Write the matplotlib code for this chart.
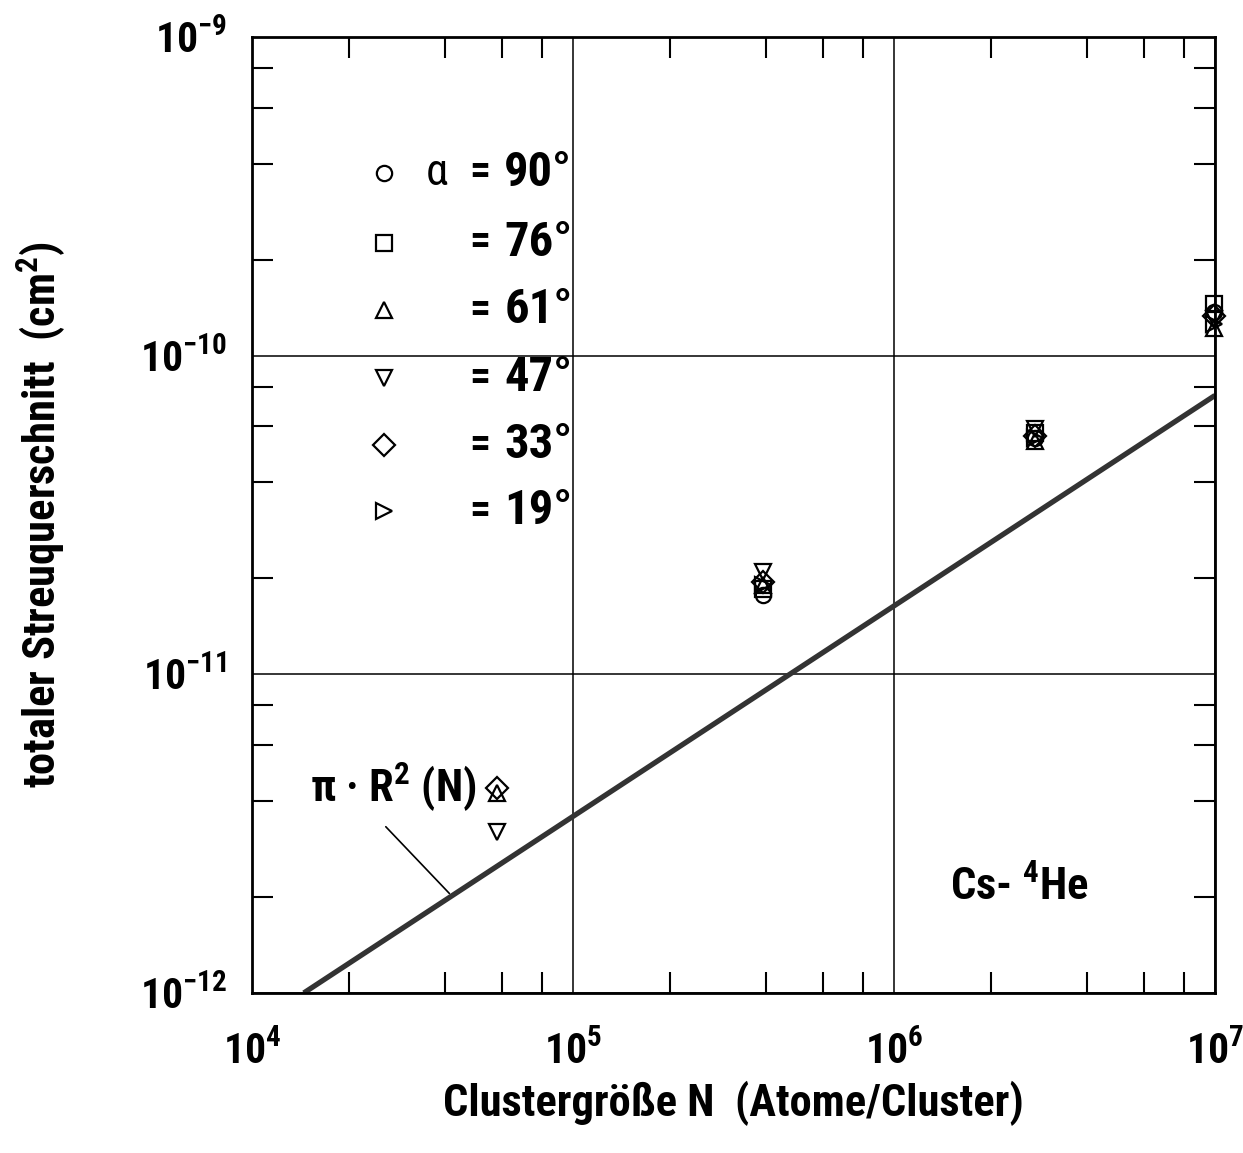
import numpy as np
import matplotlib
matplotlib.use('Agg')
import matplotlib.pyplot as plt
from matplotlib import font_manager as fm
from matplotlib.ticker import LogLocator, NullFormatter, FixedLocator, FixedFormatter

# pick a condensed bold sans, whatever is there
have = set(f.name for f in fm.fontManager.ttflist)
font = 'DejaVu Sans'
for cand in ['Roboto Condensed', 'Archivo Narrow', 'PT Sans Narrow', 'Fira Sans Condensed',
             'Barlow Condensed', 'Liberation Sans Narrow', 'Liberation Sans']:
    if cand in have:
        font = cand
        break

plt.rcParams['font.family'] = [font, 'DejaVu Sans']
plt.rcParams['font.weight'] = 'bold'
plt.rcParams['axes.labelweight'] = 'bold'
plt.rcParams['mathtext.fontset'] = 'custom'
plt.rcParams['mathtext.rm'] = font + ':bold'
plt.rcParams['mathtext.it'] = font + ':bold'
plt.rcParams['mathtext.bf'] = font + ':bold'
plt.rcParams['mathtext.default'] = 'rm'

# cluster sizes of the measurements
N = [5.8e4, 3.9e5, 2.75e6, 9.9e6]
angles = [90, 76, 61, 47, 33, 19]
markers = ['o', 's', '^', 'v', 'D', '>']
sigma = {
    90: [np.nan, 1.78e-11, 5.5e-11, 1.37e-10],
    76: [np.nan, 1.85e-11, 5.7e-11, 1.45e-10],
    61: [4.25e-12, 1.9e-11, 5.4e-11, 1.22e-10],
    47: [3.2e-12, 2.1e-11, 5.9e-11, 1.30e-10],
    33: [4.4e-12, 1.95e-11, 5.6e-11, 1.33e-10],
    19: [np.nan, 1.9e-11, 5.5e-11, 1.26e-10],
}

# geometric cross section pi*R^2(N), straight line in log-log
N_geo = [1.45e4, 1.0e7]
sigma_geo = [1.0e-12, 7.5e-11]

xticks = [1e4, 1e5, 1e6, 1e7]
xticklabels = [r'$10^4$', r'$10^5$', r'$10^6$', r'$10^7$']
yticks = [1e-12, 1e-11, 1e-10, 1e-9]
yticklabels = [r'$10^{-12}$', r'$10^{-11}$', r'$10^{-10}$', r'$10^{-9}$']

fig = plt.figure(figsize=(12.43, 11.53), dpi=100)
ax = fig.add_axes([0.2027, 0.1388, 0.7747, 0.8291])
ax.set_xscale('log')
ax.set_yscale('log')
ax.set_xlim(1e4, 1e7)
ax.set_ylim(1e-12, 1e-9)

ax.plot(N_geo, sigma_geo, color='#333333', lw=3.8, solid_capstyle='butt')

mk = dict(linestyle='none', markersize=11, markerfacecolor='none',
          markeredgecolor='black', markeredgewidth=1.6)
for a, m in zip(angles, markers):
    ax.plot(N, sigma[a], marker=m, clip_on=False, zorder=5, **mk)

ax.xaxis.set_major_locator(FixedLocator(xticks))
ax.xaxis.set_major_formatter(FixedFormatter(xticklabels))
ax.yaxis.set_major_locator(FixedLocator(yticks))
ax.yaxis.set_major_formatter(FixedFormatter(yticklabels))
ax.xaxis.set_minor_locator(LogLocator(base=10, subs=[2, 4, 6, 8]))
ax.yaxis.set_minor_locator(LogLocator(base=10, subs=[2, 4, 6, 8]))
ax.xaxis.set_minor_formatter(NullFormatter())
ax.yaxis.set_minor_formatter(NullFormatter())
ax.tick_params(which='major', length=0, labelsize=30)
ax.tick_params(axis='x', which='major', pad=28)
ax.tick_params(axis='y', which='major', pad=18)
ax.tick_params(which='minor', direction='in', length=15, width=1.5,
               top=True, right=True)
ax.grid(True, which='major', color='black', lw=1.1)
for s in ax.spines.values():
    s.set_linewidth(2)

ax.set_xlabel('Clustergröße N  (Atome/Cluster)', fontsize=32, labelpad=6)
ax.set_ylabel(r'totaler Streuquerschnitt  (cm$^2$)', fontsize=32, labelpad=52)

# legend drawn by hand
row_y = [0.858, 0.785, 0.714, 0.643, 0.573, 0.504]
for i, (a, m) in enumerate(zip(angles, markers)):
    ax.plot([0.137], [row_y[i]], transform=ax.transAxes, marker=m, **mk)
    ax.text(0.226, row_y[i], '=', transform=ax.transAxes,
            fontsize=30, va='center', ha='left')
    ax.text(0.262, row_y[i], '%d°' % a, transform=ax.transAxes,
            fontsize=35, va='center', ha='left')
ax.text(0.18, row_y[0], 'α', transform=ax.transAxes, fontsize=32,
        va='center', ha='left', fontweight='normal')

ax.text(0.06, 0.215, r'π · R$^2$ (N)', transform=ax.transAxes, fontsize=32,
        va='center', ha='left')
ax.annotate('', xy=(0.207, 0.102), xytext=(0.137, 0.176),
            xycoords='axes fraction', textcoords='axes fraction',
            arrowprops=dict(arrowstyle='-', color='black', lw=1.2))
ax.text(0.725, 0.11, r'Cs- $^4$He', transform=ax.transAxes, fontsize=32,
        va='center', ha='left')

fig.savefig('out.png', dpi=100)
